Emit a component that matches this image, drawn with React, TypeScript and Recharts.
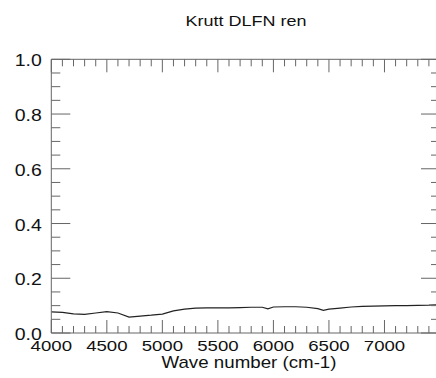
import { LineChart, Line, XAxis, YAxis } from 'recharts'

// spectrum
const waveNumbers = [
  4000, 4100, 4200, 4300, 4400, 4500, 4600, 4700, 4800, 4900, 5000, 5100, 5200, 5300,
  5400, 5500, 5600, 5700, 5800, 5900, 5950, 6000, 6100, 6200, 6300, 6400, 6450, 6500,
  6600, 6700, 6800, 6900, 7000, 7100, 7200, 7300, 7400, 7500,
]
const intensity = [
  0.077, 0.075, 0.07, 0.068, 0.073, 0.078, 0.073, 0.058, 0.062, 0.065, 0.069, 0.081, 0.087, 0.091,
  0.092, 0.092, 0.092, 0.093, 0.094, 0.094, 0.088, 0.095, 0.096, 0.096, 0.094, 0.089, 0.083, 0.087,
  0.091, 0.095, 0.097, 0.098, 0.099, 0.1, 0.1, 0.101, 0.102, 0.104,
]
const xLabelTicks = [4000, 4500, 5000, 5500, 6000, 6500, 7000]
const yLabelTicks = [0, 0.2, 0.4, 0.6, 0.8, 1.0]

const data = waveNumbers.map((w, i) => ({ w, v: intensity[i] }))

// minor ticks every 100 / 0.05
const xTicks = Array.from({ length: 35 }, (_, i) => 4000 + i * 100)
const yTicks = Array.from({ length: 21 }, (_, i) => i / 20)

const AXIS = '#666'
const INK = '#111'
const FONT = '"Liberation Sans", Arial, Helvetica, sans-serif'

const isXMajor = (v: number) => xLabelTicks.includes(v)
const isYMajor = (v: number) => yLabelTicks.some((t) => Math.abs(t - v) < 1e-6)

function BottomTick({ x, y, payload }: any) {
  const major = isXMajor(payload.value)
  return (
    <g>
      <line x1={x} x2={x} y1={y} y2={y - (major ? 13 : 7)} stroke={AXIS} />
      {major && (
        <text
          transform={`translate(${x},${y + 18}) scale(1.2,1)`}
          textAnchor="middle"
          fontSize={15.5}
          fontFamily={FONT}
          fill={INK}
        >
          {payload.value}
        </text>
      )}
    </g>
  )
}

function TopTick({ x, y, payload }: any) {
  const major = isXMajor(payload.value)
  return <line x1={x} x2={x} y1={y} y2={y + (major ? 13 : 7)} stroke={AXIS} />
}

function LeftTick({ x, y, payload }: any) {
  const major = isYMajor(payload.value)
  return (
    <g>
      <line x1={x} x2={x + (major ? 19 : 9)} y1={y} y2={y} stroke={AXIS} />
      {major && (
        <text
          transform={`translate(${x - 9.5},${y + 7}) scale(1.18,1)`}
          textAnchor="end"
          fontSize={16.5}
          fontFamily={FONT}
          fill={INK}
        >
          {payload.value.toFixed(1)}
        </text>
      )}
    </g>
  )
}

function RightTick({ x, y, payload }: any) {
  const major = isYMajor(payload.value)
  return <line x1={x} x2={x - (major ? 19 : 9)} y1={y} y2={y} stroke={AXIS} />
}

export default function App() {
  return (
    <div
      style={{
        position: 'absolute',
        left: 0,
        top: 0,
        width: 436,
        height: 378,
        overflow: 'hidden',
        background: '#fff',
      }}
    >
      <LineChart width={441} height={378} data={data} margin={{ top: 0, right: 0, bottom: 0, left: 0 }}>
        <XAxis
          xAxisId="b"
          dataKey="w"
          type="number"
          domain={[4000, 7500]}
          allowDataOverflow
          ticks={xTicks}
          interval={0}
          height={45}
          tickSize={0}
          tickMargin={0}
          tickLine={false}
          axisLine={{ stroke: AXIS }}
          tick={BottomTick}
        />
        <XAxis
          xAxisId="t"
          orientation="top"
          dataKey="w"
          type="number"
          domain={[4000, 7500]}
          allowDataOverflow
          ticks={xTicks}
          interval={0}
          height={59.3}
          tickSize={0}
          tickMargin={0}
          tickLine={false}
          axisLine={{ stroke: AXIS }}
          tick={TopTick}
        />
        <YAxis
          yAxisId="l"
          type="number"
          domain={[0, 1]}
          allowDataOverflow
          ticks={yTicks}
          interval={0}
          width={51.3}
          tickSize={0}
          tickMargin={0}
          tickLine={false}
          axisLine={{ stroke: AXIS }}
          tick={LeftTick}
        />
        <YAxis
          yAxisId="r"
          orientation="right"
          type="number"
          domain={[0, 1]}
          allowDataOverflow
          ticks={yTicks}
          interval={0}
          width={1}
          tickSize={0}
          tickMargin={0}
          tickLine={false}
          axisLine={{ stroke: AXIS }}
          tick={RightTick}
        />
        <Line
          xAxisId="b"
          yAxisId="l"
          dataKey="v"
          type="linear"
          stroke="#222"
          strokeWidth={1.2}
          dot={false}
          isAnimationActive={false}
        />
      </LineChart>
      <svg
        width={436}
        height={378}
        style={{ position: 'absolute', left: 0, top: 0, pointerEvents: 'none' }}
      >
        <text
          transform="translate(246,26) scale(1.2,1)"
          textAnchor="middle"
          fontSize={15}
          fontFamily={FONT}
          fill={INK}
        >
          Krutt DLFN ren
        </text>
        <text
          transform="translate(249,368) scale(1.17,1)"
          textAnchor="middle"
          fontSize={16}
          fontFamily={FONT}
          fill={INK}
        >
          Wave number (cm-1)
        </text>
      </svg>
    </div>
  )
}
